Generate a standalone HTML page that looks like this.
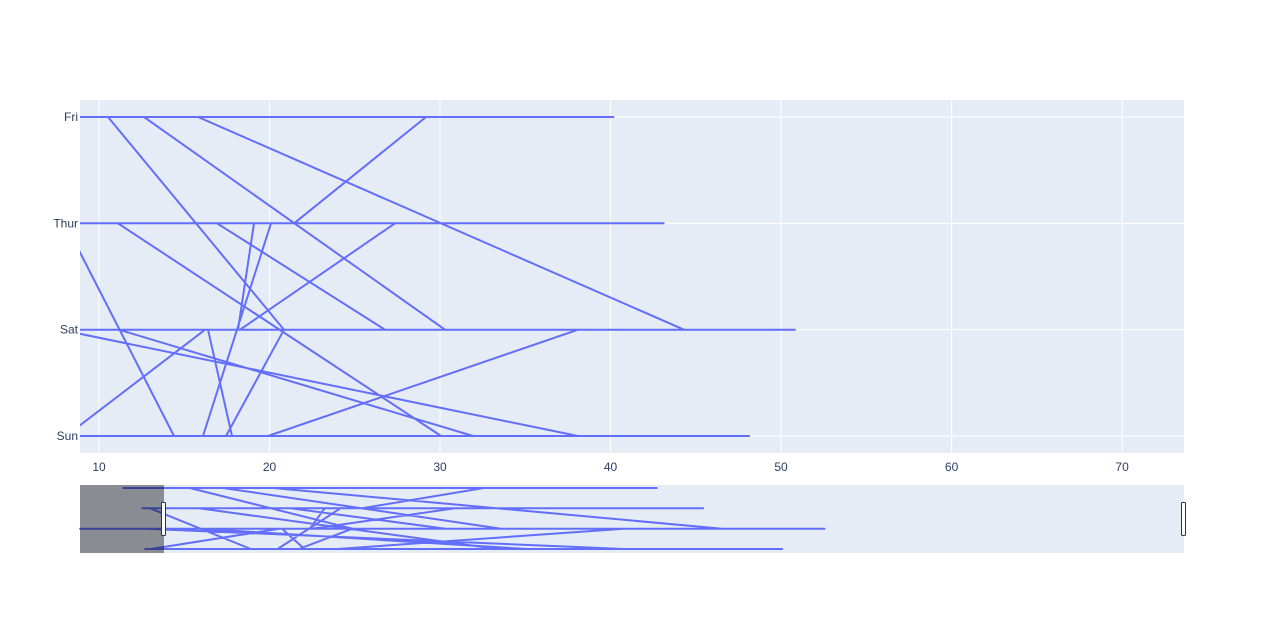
<!DOCTYPE html>
<html><head><meta charset="utf-8"><style>
body{margin:0;background:#fff;}
svg text{font-family:"Liberation Sans",sans-serif;font-size:12px;fill:#2a3f5f;}
</style></head><body>
<svg id="chart" width="1264" height="632" xmlns="http://www.w3.org/2000/svg">
<rect x="0" y="0" width="1264" height="632" fill="#fff"/>
<rect x="80" y="100" width="1104" height="353" fill="#e5ecf6"/>
<g id="grid"></g>
<g id="xticks"></g>
<g id="yticks"></g>
<clipPath id="pc"><rect x="80" y="100" width="1104" height="353"/></clipPath>
<path id="mainline" clip-path="url(#pc)" fill="none" stroke="#636efa" stroke-width="2" stroke-linejoin="round"/>
<rect x="80" y="485" width="1104" height="68" fill="#e5ecf6"/>
<path id="sliderline" fill="none" stroke="#636efa" stroke-width="2" stroke-linejoin="round"/>
<rect x="80" y="485" width="84" height="68" fill="#000" fill-opacity="0.4"/>
<rect x="161.5" y="502.5" width="4" height="33" rx="1" fill="#fff" stroke="#333" stroke-width="1"/>
<rect x="1181.5" y="502.5" width="4" height="33" rx="1" fill="#fff" stroke="#333" stroke-width="1"/>
</svg>
<script>
const categories = ["Sun","Sat","Thur","Fri"];
const xTicks = [10,20,30,40,50,60,70];
const billValues = [48.17,7.70,8.06,16.22,3.07,50.81,7.71,38.09,19.91,38.09,16.22,16.39,17.80,14.40,8.01,7.51,43.11,11.11,30.06,16.10,20.09,19.09,18.15,18.27,27.36,16.92,26.77,20.85,17.45,31.94,11.17,20.85,10.53,6.30,40.17,12.64,30.29,44.31,15.81,29.18,21.44];
const dayValues = ["Sun","Sun","Sun","Sat","Sat","Sat","Sat","Sun","Sun","Sat","Sat","Sat","Sun","Sun","Thur","Thur","Thur","Thur","Sun","Sun","Thur","Thur","Sat","Sat","Thur","Thur","Sat","Sat","Sun","Sun","Sat","Sat","Fri","Fri","Fri","Fri","Sat","Sat","Fri","Fri","Thur"];
const xMin=8.886, xMax=73.63, sMin=3.56, sMax=73.63;
const X = v => 80 + (v - xMin) / (xMax - xMin) * 1104;
const SX = v => 80 + (v - sMin) / (sMax - sMin) * 1104;
const Y = c => 436 - categories.indexOf(c) * (436 - 117) / 3;
const SY = c => 549 - categories.indexOf(c) * (549 - 488) / 3;
const ns="http://www.w3.org/2000/svg";
const grid=document.getElementById('grid'), xt=document.getElementById('xticks'), yt=document.getElementById('yticks');
xTicks.forEach(t=>{
  const l=document.createElementNS(ns,'line');
  l.setAttribute('x1',X(t));l.setAttribute('x2',X(t));l.setAttribute('y1',100);l.setAttribute('y2',453);
  l.setAttribute('stroke','#fff');l.setAttribute('stroke-width','1');
  
  
  grid.appendChild(l);
  const tx=document.createElementNS(ns,'text');
  tx.setAttribute('x',X(t));tx.setAttribute('y',471);tx.setAttribute('text-anchor','middle');tx.textContent=t;
  
  
  xt.appendChild(tx);
});
categories.forEach(c=>{
  const l=document.createElementNS(ns,'line');
  l.setAttribute('x1',80);l.setAttribute('x2',1184);l.setAttribute('y1',Y(c));l.setAttribute('y2',Y(c));
  l.setAttribute('stroke','#fff');l.setAttribute('stroke-width','1');
  
  
  grid.appendChild(l);
  const tx=document.createElementNS(ns,'text');
  tx.setAttribute('x',78);tx.setAttribute('y',Y(c)+4);tx.setAttribute('text-anchor','end');tx.textContent=c;
  
  
  yt.appendChild(tx);
});
let d='',sd='';
billValues.forEach((v,i)=>{
  d+=(i?'L':'M')+X(v).toFixed(1)+' '+Y(dayValues[i]).toFixed(1);
  sd+=(i?'L':'M')+Math.max(80,SX(v)).toFixed(1)+' '+SY(dayValues[i]).toFixed(1);
});
document.getElementById('mainline').setAttribute('d',d);
document.getElementById('sliderline').setAttribute('d',sd);
</script>
</body></html>
